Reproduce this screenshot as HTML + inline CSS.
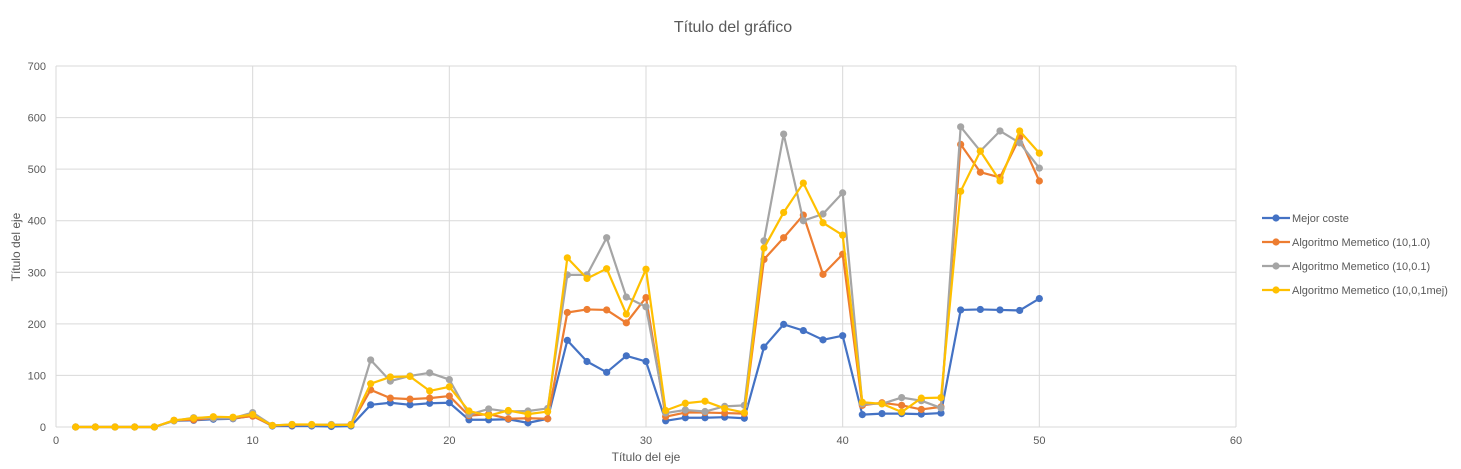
<!DOCTYPE html>
<html><head><meta charset="utf-8"><style>
body{margin:0;background:#fff;font-family:"Liberation Sans",sans-serif}
svg text{font-family:"Liberation Sans",sans-serif}
</style></head><body>
<svg id="chart" width="1461" height="464" xmlns="http://www.w3.org/2000/svg">
<rect width="1461" height="464" fill="#fff"/>
<g id="g"></g>
</svg>
<script>
const xs=[];for(let i=1;i<=50;i++)xs.push(i);
const mejor=[0,0,0,0,0,12,13,15,16,22,2,2,2,1,2,43,47,43,46,47,14,14,15,8,16,168,127,106,138,127,12,18,18,19,17,155,199,187,169,177,24,26,26,25,27,227,228,227,226,249];
const alg10=[0,0,0,0,0,13,14,17,17,21,3,4,4,4,5,72,56,54,56,60,22,25,16,17,16,222,228,227,202,251,20,28,28,27,26,325,367,411,296,335,42,47,42,34,39,548,494,484,561,477];
const alg01=[0,0,0,0,0,12,18,17,17,28,3,5,4,5,4,130,89,99,105,92,24,35,30,31,36,295,295,367,252,233,27,33,30,40,42,361,568,400,413,454,45,45,57,51,37,582,535,574,551,502];
const algMej=[0,0,0,0,0,13,17,20,19,24,3,5,5,4,4,84,97,98,70,78,31,22,32,25,30,328,288,307,219,306,32,46,50,36,28,347,416,473,396,372,48,45,29,56,57,457,535,477,574,531];
const yTicks=[0,100,200,300,400,500,600,700];
const xTicks=[0,10,20,30,40,50,60];
const seriesNames=["Mejor coste","Algoritmo Memetico (10,1.0)","Algoritmo Memetico (10,0.1)","Algoritmo Memetico (10,0,1mej)"];
const colors=["#4472c4","#ed7d31","#a5a5a5","#ffc000"];
const L=56,R=1236,T=66,B=427;
const X=v=>L+(v-0)/60*(R-L), Y=v=>B-v/700*(B-T);
const g=document.getElementById('g');const NS="http://www.w3.org/2000/svg";
function mk(t,a,p){const e=document.createElementNS(NS,t);for(const k in a)e.setAttribute(k,a[k]);(p||g).appendChild(e);return e;}
yTicks.forEach(v=>{const l=mk('line',{x1:L,x2:R,y1:Y(v),y2:Y(v),stroke:'#d9d9d9','stroke-width':1});

const t=mk('text',{x:L-10,y:Y(v)+4,'text-anchor':'end','font-size':11,fill:'#595959'});t.textContent=v;
});
xTicks.forEach(v=>{const l=mk('line',{x1:X(v),x2:X(v),y1:T,y2:B,stroke:'#d9d9d9','stroke-width':1});

const t=mk('text',{x:X(v),y:B+17,'text-anchor':'middle','font-size':11,fill:'#595959'});t.textContent=v;
});
[mejor,alg10,alg01,algMej].forEach((s,i)=>{
const p=mk('polyline',{points:s.map((v,j)=>X(xs[j])+','+Y(v)).join(' '),fill:'none',stroke:colors[i],'stroke-width':2.2,'stroke-linejoin':'round'});

s.forEach((v,j)=>{const c=mk('circle',{cx:X(xs[j]),cy:Y(v),r:3.6,fill:colors[i]});
});
const ly=218+i*24;
const ll=mk('line',{x1:1262,x2:1290,y1:ly,y2:ly,stroke:colors[i],'stroke-width':2.2});

const lc=mk('circle',{cx:1276,cy:ly,r:3.6,fill:colors[i]});

const lt=mk('text',{x:1292,y:ly+4,'font-size':11,fill:'#595959'});lt.textContent=seriesNames[i];

});
const ti=mk('text',{x:733,y:32,'text-anchor':'middle','font-size':16,fill:'#595959'});ti.textContent="Título del gráfico";

const xt=mk('text',{x:646,y:461,'text-anchor':'middle','font-size':12,fill:'#595959'});xt.textContent="Título del eje";

const yt=mk('text',{x:0,y:0,'text-anchor':'middle','font-size':12,fill:'#595959',transform:'translate(20,247) rotate(-90)'});yt.textContent="Título del eje";

</script>
</body></html>
